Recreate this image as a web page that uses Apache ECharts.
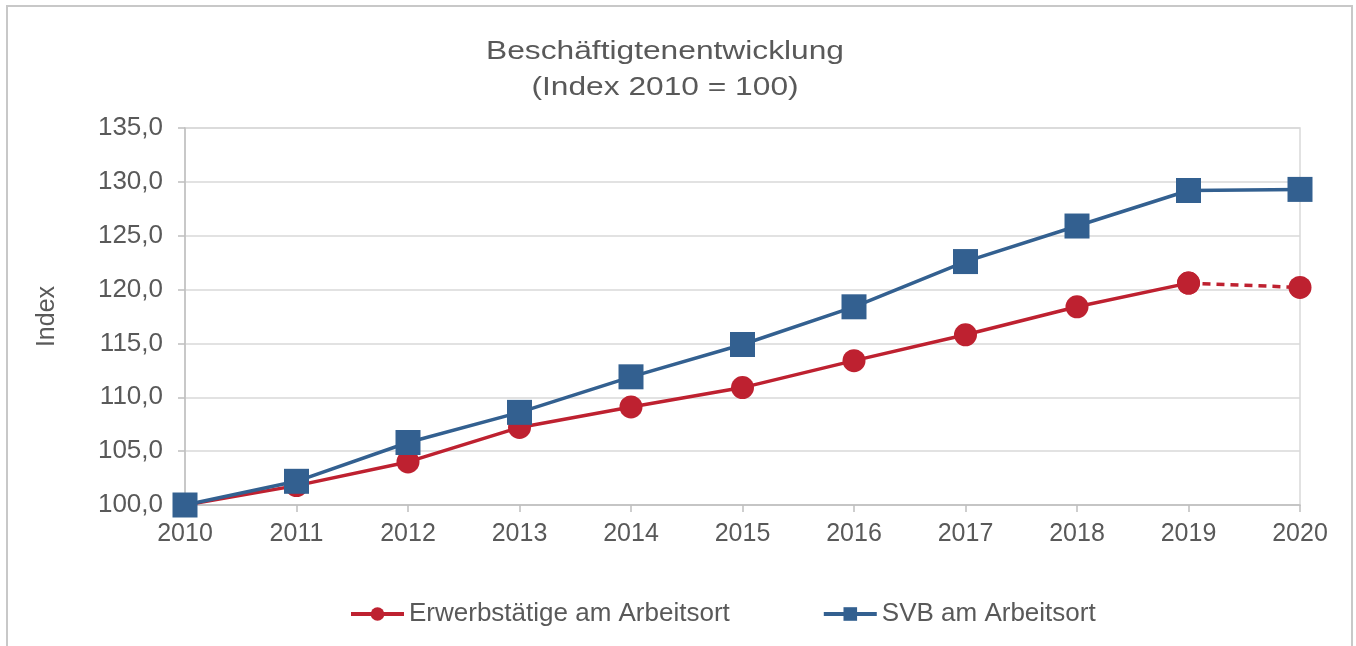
<!DOCTYPE html>
<html>
<head>
<meta charset="utf-8">
<script src="https://cdn.jsdelivr.net/npm/echarts@6/dist/echarts.min.js"></script>
<style>
  html, body { margin: 0; padding: 0; background: #fff; }
  #chart { width: 1356px; height: 646px; }
</style>
</head>
<body>
<div id="chart"></div>
<script>
const years = ["2010", "2011", "2012", "2013", "2014", "2015", "2016", "2017", "2018", "2019", "2020"];
const erwerbstaetige = [100.0, 101.8, 104.0, 107.2, 109.1, 110.9, 113.4, 115.8, 118.4, 120.6, 120.2];
const svb = [100.0, 102.2, 105.8, 108.6, 111.9, 114.9, 118.4, 122.6, 125.9, 129.2, 129.3];

const red = "#BE2130";
const blue = "#336090";
const textColor = "#595959";
const font = "Liberation Sans, Arial, sans-serif";

// last segment (2019 -> 2020) of the red line is dashed
const lastIdx = years.length - 1;
const redSolid = erwerbstaetige.map((v, i) => (i < lastIdx ? v : "-"));
const redDashed = erwerbstaetige.map((v, i) => (i >= lastIdx - 1 ? v : "-"));

const chart = echarts.init(document.getElementById("chart"));

chart.setOption({
  animation: false,
  textStyle: { fontFamily: font },
  graphic: [
    {
      type: "rect",
      shape: { x: 7, y: 6, width: 1345, height: 700 },
      style: { fill: "none", stroke: "#C8C8C8", lineWidth: 2 },
      silent: true,
    },
    {
      // title text is drawn a bit wider, like in the original
      type: "text",
      x: 665,
      y: 70,
      scaleX: 1.22,
      silent: true,
      style: {
        text: "Beschäftigtenentwicklung\n(Index 2010 = 100)",
        align: "center",
        verticalAlign: "middle",
        fill: textColor,
        font: "26px " + font,
        lineHeight: 36,
      },
    },
  ],
  legend: {
    top: 596,
    left: 344,
    itemGap: 92,
    itemWidth: 53,
    itemHeight: 17,
    lineStyle: { width: 4 },
    textStyle: { color: textColor, fontSize: 26, fontFamily: font },
    data: ["Erwerbstätige am Arbeitsort", "SVB am Arbeitsort"],
  },
  grid: {
    left: 185,
    right: 56,
    top: 128,
    bottom: 141,
    show: true,
    borderColor: "#D9D9D9",
    borderWidth: 1.5,
  },
  xAxis: {
    type: "category",
    data: years,
    boundaryGap: false,
    axisLine: { lineStyle: { color: "#BFBFBF", width: 1.5 } },
    axisTick: { show: true, length: 7, lineStyle: { color: "#BFBFBF", width: 1.5 } },
    axisLabel: { color: textColor, fontSize: 25, margin: 17, fontFamily: font },
    splitLine: { show: false },
  },
  yAxis: {
    type: "value",
    min: 100,
    max: 135,
    interval: 5,
    name: "Index",
    nameLocation: "middle",
    nameGap: 125,
    nameTextStyle: { color: textColor, fontSize: 25, fontFamily: font },
    axisLine: { show: true, lineStyle: { color: "#BFBFBF", width: 1.5 } },
    axisTick: { show: true, length: 7, lineStyle: { color: "#BFBFBF", width: 1.5 } },
    axisLabel: {
      color: textColor,
      fontSize: 26,
      margin: 22,
      fontFamily: font,
      formatter: (v) => v.toFixed(1).replace(".", ","),
    },
    splitLine: { lineStyle: { color: "#D9D9D9", width: 1.5 } },
  },
  series: [
    {
      name: "Erwerbstätige am Arbeitsort",
      type: "line",
      data: redSolid,
      symbol: "circle",
      symbolSize: 23,
      z: 2,
      itemStyle: { color: red },
      lineStyle: { color: red, width: 3.5 },
    },
    {
      name: "Erwerbstätige am Arbeitsort",
      type: "line",
      data: redDashed,
      symbol: "circle",
      symbolSize: 23,
      z: 2,
      itemStyle: { color: red },
      lineStyle: { color: red, width: 3.5, type: [8, 6] },
    },
    {
      name: "SVB am Arbeitsort",
      type: "line",
      data: svb,
      symbol: "rect",
      symbolSize: 25,
      z: 3,
      itemStyle: { color: blue },
      lineStyle: { color: blue, width: 3.5 },
    },
  ],
});
</script>
</body>
</html>
